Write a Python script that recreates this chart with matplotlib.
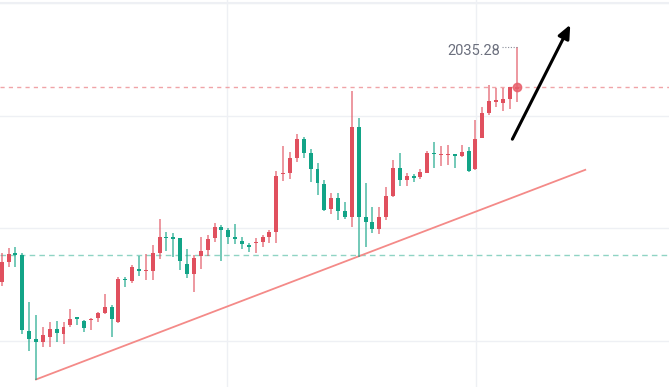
import matplotlib.pyplot as plt
import numpy as np

# OHLC (red = up, green = down)
opens = [2015.27, 2017.05, 2017.85, 2017.64, 2010.93, 2010.19, 2009.95, 2010.37, 2011.08, 2010.63,
         2011.43, 2012.12, 2011.82, 2011.88, 2012.08, 2012.52, 2013.00, 2011.73, 2015.54, 2015.36,
         2016.40, 2016.20, 2016.25, 2017.85, 2019.27, 2019.21, 2019.13, 2016.85, 2015.96, 2017.55,
         2018.09, 2019.13, 2020.15, 2019.86, 2019.21, 2018.91, 2018.50, 2018.68, 2018.82, 2019.27,
         2019.71, 2024.80, 2024.89, 2026.28, 2027.91, 2026.67, 2025.25, 2023.94, 2021.70, 2022.68,
         2021.57, 2021.04, 2029.03, 2021.04, 2020.60, 2019.95, 2021.04, 2022.91, 2025.34, 2024.30,
         2024.65, 2024.59, 2024.95, 2026.67, 2026.49, 2026.49, 2026.58, 2026.43, 2026.90, 2025.25,
         2028.05, 2030.22, 2031.25, 2031.16, 2031.49, 2032.40]
highs = [2017.82, 2018.26, 2018.38, 2017.85, 2013.50, 2012.32, 2011.28, 2011.73, 2011.82, 2011.73,
         2012.85, 2012.17, 2011.88, 2012.08, 2012.61, 2014.16, 2013.21, 2015.72, 2015.72, 2016.76,
         2017.58, 2017.73, 2018.53, 2020.81, 2019.71, 2019.57, 2019.13, 2018.15, 2017.64, 2019.27,
         2019.42, 2020.46, 2020.31, 2020.01, 2020.39, 2019.27, 2018.68, 2019.13, 2019.42, 2019.86,
         2025.12, 2027.34, 2026.81, 2028.38, 2028.14, 2027.02, 2025.78, 2024.30, 2023.12, 2023.12,
         2022.37, 2032.22, 2029.77, 2024.01, 2021.93, 2021.93, 2023.70, 2026.07, 2026.72, 2024.89,
         2024.80, 2025.25, 2026.90, 2027.70, 2027.31, 2027.38, 2026.58, 2027.40, 2027.25, 2029.62,
         2030.80, 2032.73, 2032.49, 2032.43, 2032.52, 2036.13]
lows = [2014.89, 2016.58, 2016.61, 2010.63, 2009.15, 2006.55, 2009.51, 2009.51, 2009.95, 2009.75,
        2011.23, 2011.43, 2010.84, 2010.99, 2011.67, 2012.41, 2010.39, 2011.64, 2014.78, 2015.19,
        2015.81, 2015.42, 2015.42, 2017.26, 2018.03, 2017.44, 2016.31, 2015.63, 2014.33, 2016.40,
        2017.55, 2018.82, 2017.11, 2018.62, 2018.59, 2018.18, 2017.94, 2017.85, 2018.38, 2018.73,
        2018.73, 2024.21, 2024.39, 2025.92, 2026.22, 2024.15, 2022.97, 2021.55, 2021.28, 2020.75,
        2020.81, 2020.10, 2017.49, 2018.38, 2019.57, 2019.51, 2020.75, 2022.82, 2023.79, 2023.79,
        2024.15, 2024.36, 2024.89, 2025.34, 2025.54, 2025.60, 2025.34, 2026.37, 2025.03, 2025.19,
        2027.99, 2030.07, 2030.80, 2030.42, 2030.57, 2031.25]
closes = [2017.05, 2017.73, 2017.67, 2010.99, 2010.19, 2009.95, 2010.55, 2011.08, 2010.75, 2011.28,
          2011.94, 2011.99, 2011.19, 2011.99, 2012.47, 2013.06, 2011.94, 2015.51, 2015.42, 2016.61,
          2016.20, 2016.29, 2017.85, 2019.27, 2019.15, 2019.06, 2017.11, 2015.96, 2017.40, 2018.03,
          2019.04, 2020.15, 2019.86, 2019.21, 2019.09, 2018.62, 2018.33, 2018.82, 2019.27, 2019.71,
          2024.68, 2024.89, 2026.22, 2027.91, 2026.72, 2025.27, 2024.01, 2021.64, 2022.68, 2021.55,
          2021.04, 2029.03, 2021.04, 2020.60, 2019.95, 2021.04, 2022.91, 2025.34, 2024.30, 2024.68,
          2024.45, 2025.03, 2026.72, 2026.58, 2026.58, 2026.58, 2026.46, 2026.81, 2025.12, 2027.91,
          2030.22, 2031.33, 2031.40, 2031.49, 2032.52, 2032.55]

high_label = '2035.28'
prev_level = 2017.64
trend_x = [5, 85]
trend_y = [2006.6, 2025.2]
arrow_from = (74.2, 2027.7)
arrow_to = (83.0, 2038.3)

up_col = '#e0505e'
down_col = '#12a487'

fig = plt.figure(figsize=(6.69, 3.87), dpi=100)
ax = fig.add_axes([0, 0, 1, 1])
ax.set_xlim(-0.25, 97.2)
ax.set_ylim(2005.93, 2040.27)
ax.axis('off')

# grid
for gy in [2020, 2030, 2010, 2040]:
    ax.axhline(gy, color='#eef0f4', lw=1, zorder=0)
ax.axhline(2040.0, color='#eef0f4', lw=1.5, zorder=0)
for gx in [32.8, 69.1]:
    ax.axvline(gx, color='#eef0f4', lw=1, zorder=0)

x = np.arange(len(opens))
o = np.array(opens)
c = np.array(closes)
cols = [up_col if ci >= oi else down_col for oi, ci in zip(o, c)]
ax.vlines(x, lows, highs, colors=cols, lw=1.1, alpha=0.75, zorder=2)
bottom = np.minimum(o, c)
height = np.maximum(np.abs(c - o), 0.1)
ax.bar(x, height, bottom=bottom, width=0.58, color=cols, zorder=3)

# price lines
ax.axhline(prev_level, color='#8fd4c4', lw=1, ls=(0, (4, 3)), zorder=1)
ax.axhline(closes[-1], color='#f0a4a8', lw=1, ls=(0, (3, 3)), zorder=1)
ax.plot(x[-1], closes[-1], 'o', ms=6, color='#e8606c', alpha=0.85, zorder=4)

# high label
ax.text(72.6, 2035.74, high_label, ha='right', va='center', fontsize=10.5,
        family='Roboto', color='#6b6f7d')
ax.plot([72.9, 75.0], [highs[-1], highs[-1]], ls=(0, (1, 1.5)), color='#8a8e9a', lw=0.8)

# trend line
ax.plot(trend_x, trend_y, color='#f48a88', lw=1.3, zorder=1)

# arrow
ax.annotate('', xy=arrow_to, xytext=arrow_from,
            arrowprops=dict(arrowstyle='-|>,head_length=0.8,head_width=0.35',
                            color='black', lw=2.2))

fig.savefig('out.png', dpi=100)
